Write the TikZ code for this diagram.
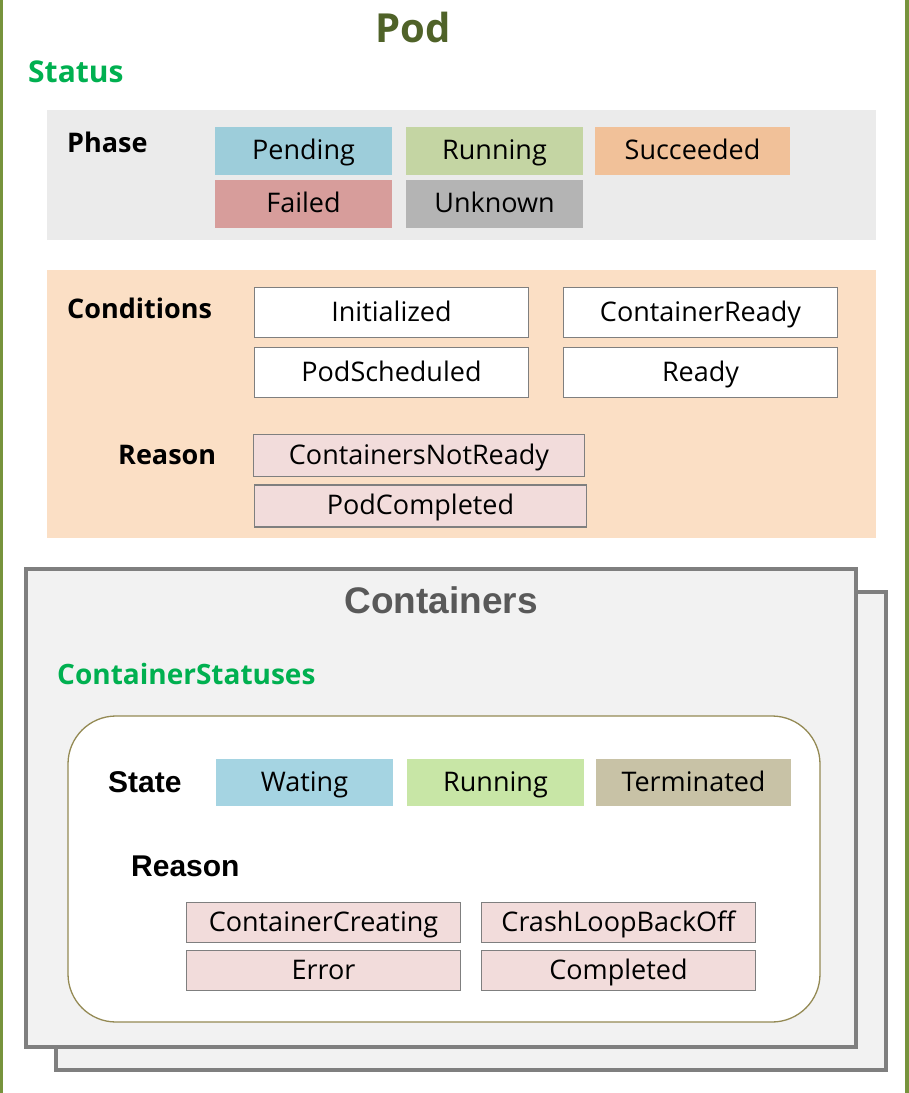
\documentclass[tikz,border=0pt]{standalone}
\usepackage{fontspec}
\setmainfont{Open Sans}
\newfontfamily\arialfont{Liberation Sans}

\definecolor{podgreen}{HTML}{4F6228}
\definecolor{framegreen}{HTML}{77933C}
\definecolor{statusgreen}{HTML}{00B050}
\definecolor{phasegray}{HTML}{EBEBEB}
\definecolor{condpeach}{HTML}{FBDFC5}
\definecolor{pendingblue}{HTML}{9DCDDA}
\definecolor{runninggreen}{HTML}{C4D5A3}
\definecolor{succeededorange}{HTML}{F1C199}
\definecolor{failedred}{HTML}{D79D9B}
\definecolor{unknowngray}{HTML}{B4B4B4}
\definecolor{reasonpink}{HTML}{F2DCDB}
\definecolor{boxgray}{HTML}{7F7F7F}
\definecolor{contfill}{HTML}{F2F2F2}
\definecolor{roundolive}{HTML}{948A54}
\definecolor{watingblue}{HTML}{A5D4E2}
\definecolor{stategreen}{HTML}{C8E6A6}
\definecolor{termkhaki}{HTML}{C8C2A6}

\tikzset{
    boxtext/.style={font=\fontsize{27}{30}\selectfont, inner sep=0pt, text=black, text height=21pt, text depth=4pt},
    phasebox/.style={boxtext, minimum width=177pt, minimum height=48pt},
    condbox/.style={boxtext, draw=boxgray, line width=1.5pt, fill=white, minimum width=274pt, minimum height=50pt},
    reasonbox/.style={boxtext, draw=boxgray, line width=1.5pt, fill=reasonpink, minimum height=42pt},
    statebox/.style={boxtext, minimum width=177pt, minimum height=47pt},
    boldlabel/.style={font=\fontsize{27}{30}\selectfont\bfseries, anchor=west, inner sep=0pt},
    ariallabel/.style={font=\arialfont\fontsize{30}{33}\selectfont\bfseries, anchor=west, inner sep=0pt}
}

\begin{document}
\begin{tikzpicture}[x=1pt, y=-1pt]
    \useasboundingbox (0,0) rectangle (909,1093);
    % pod frame
    \draw[framegreen, line width=3.5pt] (1.5,-10) -- (1.5,1103);
    \draw[framegreen, line width=3.5pt] (907,-10) -- (907,1103);
    \node[font=\fontsize{40}{44}\selectfont\bfseries, text=podgreen] (pod) at (413,27) {Pod};
    \node[font=\fontsize{30}{33}\selectfont\bfseries, text=statusgreen, anchor=west, inner sep=0pt] (status) at (28,72) {Status};

    % phase
    \fill[phasegray] (47,110) rectangle (876,240);
    \node[boldlabel] (phase) at (67,142) {Phase};
    \node[phasebox, fill=pendingblue] (pending) at (303.5,150.5) {Pending};
    \node[phasebox, fill=runninggreen] (running) at (494.5,150.5) {Running};
    \node[phasebox, fill=succeededorange, minimum width=195pt] (succeeded) at (692.5,150.5) {Succeeded};
    \node[phasebox, fill=failedred] (failed) at (303.5,204) {Failed};
    \node[phasebox, fill=unknowngray] (unknown) at (494.5,204) {Unknown};

    % conditions
    \fill[condpeach] (47,270) rectangle (876,538);
    \node[boldlabel] (conditions) at (67,308) {Conditions};
    \node[condbox] (initialized) at (391.5,312.5) {Initialized};
    \node[condbox] (containerready) at (700.5,312.5) {ContainerReady};
    \node[condbox] (podscheduled) at (391.5,372.5) {PodScheduled};
    \node[condbox] (ready) at (700.5,372.5) {Ready};
    \node[boldlabel] (podreason) at (118,455) {Reason};
    \node[reasonbox, minimum width=331pt] (notready) at (419,455.5) {ContainersNotReady};
    \node[reasonbox, minimum width=332pt] (podcompleted) at (420.5,506) {PodCompleted};

    % containers
    \draw[boxgray, line width=4pt, fill=contfill] (56,592) rectangle (886,1070);
    \draw[boxgray, line width=4pt, fill=contfill] (26,569) rectangle (856,1047);
    \node[font=\arialfont\fontsize{37}{40}\selectfont\bfseries, text=black!65] (containers) at (441,600) {Containers};
    \node[font=\fontsize{28}{31}\selectfont\bfseries, text=statusgreen, anchor=west, inner sep=0pt] (contstatuses) at (57,674) {ContainerStatuses};
    \draw[roundolive, line width=1.3pt, fill=white, rounded corners=48pt] (68,716) rectangle (820,1022);

    \node[ariallabel] (state) at (108,782) {State};
    \node[statebox, fill=watingblue] (wating) at (304.5,782.5) {Wating};
    \node[statebox, fill=stategreen] (staterunning) at (495.5,782.5) {Running};
    \node[statebox, fill=termkhaki, minimum width=195pt] (terminated) at (693.5,782.5) {Terminated};

    \node[ariallabel] (contreason) at (131,866) {Reason};
    \node[reasonbox, minimum width=274pt, minimum height=40pt] (creating) at (323.5,922.5) {ContainerCreating};
    \node[reasonbox, minimum width=274pt, minimum height=40pt] (crashloop) at (618.5,922.5) {CrashLoopBackOff};
    \node[reasonbox, minimum width=274pt, minimum height=40pt] (error) at (323.5,970.5) {Error};
    \node[reasonbox, minimum width=274pt, minimum height=40pt] (completed) at (618.5,970.5) {Completed};
\end{tikzpicture}
\end{document}
